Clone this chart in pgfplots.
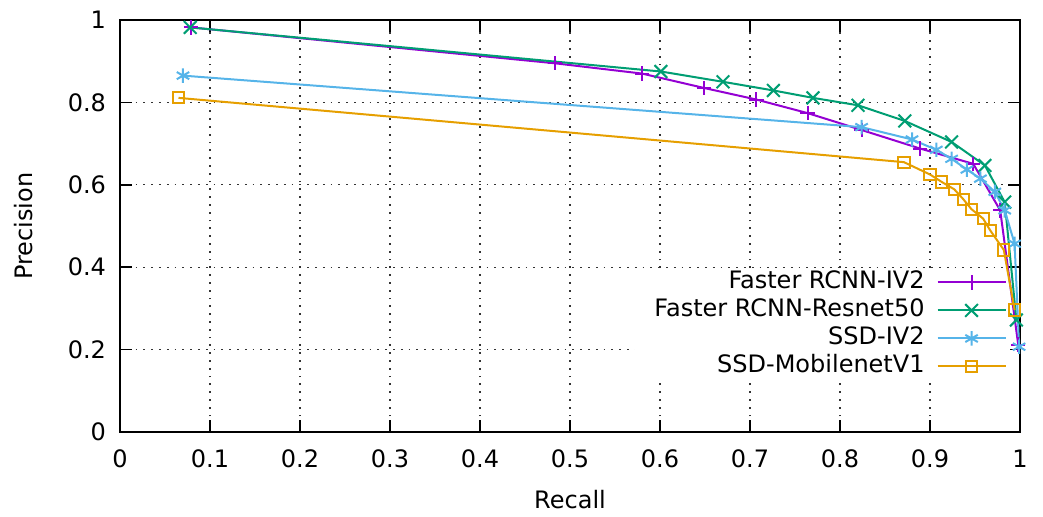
\documentclass[border=0pt]{standalone}
\usepackage{pgfplots}
\pgfplotsset{compat=1.18}
\usepackage{fontspec}
\setmainfont{DejaVu Sans}
\usetikzlibrary{calc}
\definecolor{cpurple}{HTML}{9400D3}
\definecolor{cgreen}{HTML}{009E73}
\definecolor{cblue}{HTML}{56B4E9}
\definecolor{corange}{HTML}{E69F00}
\begin{document}
\begin{tikzpicture}
\begin{axis}[
  scale only axis, width=450pt, height=206pt,
  xmin=0, xmax=1, ymin=0, ymax=1,
  xtick={0,0.1,...,1.01}, ytick={0,0.2,...,1.01},
  font=\fontsize{12}{14}\selectfont,
  /pgf/number format/assume math mode=true,
  /pgf/number format/fixed,
  axis line style={line width=1pt},
  major tick length=6pt,
  tick style={line width=0.8pt, black},
  tick align=inside,
  xtick pos=both, ytick pos=both,
  grid=major,
  major grid style={black!80, line width=0.6pt, dash pattern=on 0.9pt off 3pt},
  xticklabel style={yshift=-5.5pt},
  yticklabel style={xshift=-3.5pt},
  xlabel={Recall}, ylabel={Precision},
  every axis x label/.style={at={(axis description cs:0.5,-0.165)}, anchor=center},
  every axis y label/.style={at={(axis description cs:-0.1067,0.5)}, rotate=90, anchor=center},
  legend plot pos=right,
  legend cell align=right,
  legend style={at={(rel axis cs:0.9855,0.398)}, anchor=north east, draw=none, fill=none,
    inner xsep=0pt, inner ysep=0pt,
    nodes={text height=8.5pt, text depth=2.5pt, inner xsep=2pt, inner ysep=1.5pt},
    column sep=4pt, row sep=0pt},
  legend image code/.code={\draw[mark repeat=2,mark phase=2] plot coordinates {(0pt,0pt) (17pt,0pt) (34pt,0pt)};},
  every axis plot/.append style={line width=1pt},
]
\fill[white] (axis cs:0.572,0.392) rectangle (axis cs:0.989,0.12);
\addplot[cpurple, mark=+, mark size=3.6pt, mark options={solid}] coordinates {
(0.079,0.982) (0.483,0.895) (0.580,0.870) (0.649,0.835) (0.707,0.807)
(0.764,0.774) (0.824,0.733) (0.889,0.688) (0.948,0.651) (0.978,0.538) (0.998,0.212)};
\addlegendentry{Faster RCNN-IV2}
\addplot[cgreen, mark=x, mark size=4.5pt, mark options={solid}] coordinates {
(0.078,0.982) (0.601,0.875) (0.670,0.850) (0.726,0.829) (0.770,0.811)
(0.820,0.793) (0.872,0.755) (0.924,0.704) (0.961,0.647) (0.983,0.558) (0.996,0.272)};
\addlegendentry{Faster RCNN-Resnet50}
\addplot[cblue, mark=asterisk, mark size=3.6pt, mark options={solid}] coordinates {
(0.070,0.865) (0.824,0.740) (0.880,0.710) (0.907,0.685) (0.924,0.663)
(0.941,0.637) (0.956,0.615) (0.972,0.583) (0.983,0.538) (0.994,0.457) (0.999,0.207)};
\addlegendentry{SSD-IV2}
\addplot[corange, mark=square, mark size=2.8pt, mark options={solid}] coordinates {
(0.065,0.811) (0.871,0.655) (0.900,0.625) (0.913,0.607) (0.927,0.589)
(0.937,0.565) (0.946,0.541) (0.959,0.518) (0.967,0.489) (0.982,0.442) (0.994,0.296)};
\addlegendentry{SSD-MobilenetV1}
\coordinate (SW) at (rel axis cs:0,0);
\coordinate (NE) at (rel axis cs:1,1);
\end{axis}
\pgfresetboundingbox
\path[use as bounding box] ($(SW)+(-60pt,-42pt)$) rectangle ($(NE)+(11.5pt,10pt)$);
\end{tikzpicture}
\end{document}
